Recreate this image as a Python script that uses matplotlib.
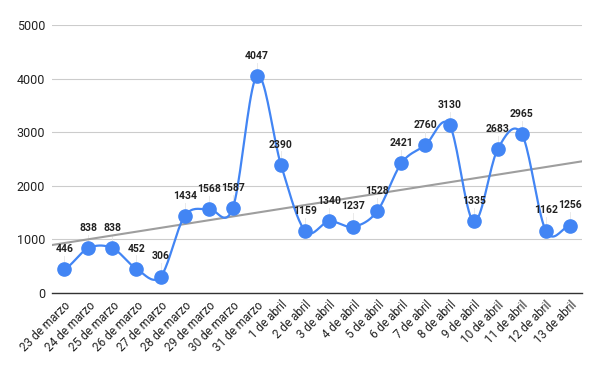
import numpy as np
import matplotlib.pyplot as plt

plt.rcParams['font.family'] = ['Roboto', 'DejaVu Sans']

fechas = ['23 de marzo', '24 de marzo', '25 de marzo', '26 de marzo', '27 de marzo',
          '28 de marzo', '29 de marzo', '30 de marzo', '31 de marzo',
          '1 de abril', '2 de abril', '3 de abril', '4 de abril', '5 de abril',
          '6 de abril', '7 de abril', '8 de abril', '9 de abril', '10 de abril',
          '11 de abril', '12 de abril', '13 de abril']
casos = [446, 838, 838, 452, 306, 1434, 1568, 1587, 4047, 2390, 1159,
         1340, 1237, 1528, 2421, 2760, 3130, 1335, 2683, 2965, 1162, 1256]
y_ticks = [0, 1000, 2000, 3000, 4000, 5000]

azul = '#4285F4'


# smooth curve through the points (Catmull-Rom, like Sheets' smoothed line)
def catmull_rom(x, y, n=20):
    x = np.asarray(x, float)
    y = np.asarray(y, float)
    px = np.concatenate([[2 * x[0] - x[1]], x, [2 * x[-1] - x[-2]]])
    py = np.concatenate([[y[0]], y, [y[-1]]])
    xs, ys = [], []
    for i in range(1, len(px) - 2):
        t = np.linspace(0, 1, n, endpoint=False)
        for arr, out in ((px, xs), (py, ys)):
            p0, p1, p2, p3 = arr[i - 1], arr[i], arr[i + 1], arr[i + 2]
            out.append(0.5 * (2 * p1 + (-p0 + p2) * t
                              + (2 * p0 - 5 * p1 + 4 * p2 - p3) * t ** 2
                              + (-p0 + 3 * p1 - 3 * p2 + p3) * t ** 3))
    xs.append([x[-1]])
    ys.append([y[-1]])
    return np.concatenate(xs), np.concatenate(ys)


x = np.arange(len(casos))
fig, ax = plt.subplots(figsize=(6, 3.71), dpi=100)
fig.subplots_adjust(left=0.087, right=0.97, top=0.933, bottom=0.21)

ax.set_xlim(-0.5, len(casos) - 0.5)
ax.set_ylim(0, 5000)

# trend line
m, b = np.polyfit(x, casos, 1)
xt = np.array(ax.get_xlim())
ax.plot(xt, m * xt + b, color='#9e9e9e', lw=1.5, zorder=2)

sx, sy = catmull_rom(x, casos)
ax.plot(sx, sy, color=azul, lw=1.6, zorder=3)
ax.plot(x, casos, 'o', color=azul, ms=9.5, zorder=4)

for xi, v in zip(x, casos):
    ax.annotate(str(v), (xi, v), xytext=(0, 11), textcoords='offset points',
                ha='center', va='bottom', fontsize=7.5, fontweight='bold',
                color='#222222', zorder=5)
    ax.plot([xi, xi], [v, v + 250], color='#e6e6e6', lw=0.6, zorder=1)

ax.set_xticks(x)
ax.set_xticklabels(fechas, rotation=45, ha='right', rotation_mode='anchor',
                   fontsize=8.5, color='#222222')
ax.set_yticks(y_ticks)
ax.tick_params(axis='y', labelsize=9, colors='#222222', length=0, pad=5)
ax.tick_params(axis='x', length=0, pad=4)
ax.grid(axis='y', color='#cccccc', lw=0.8)
ax.set_axisbelow(True)
for s in ['top', 'right', 'left']:
    ax.spines[s].set_visible(False)
ax.spines['bottom'].set_color('#333333')
ax.spines['bottom'].set_linewidth(1)

plt.savefig('out.png', dpi=100)
